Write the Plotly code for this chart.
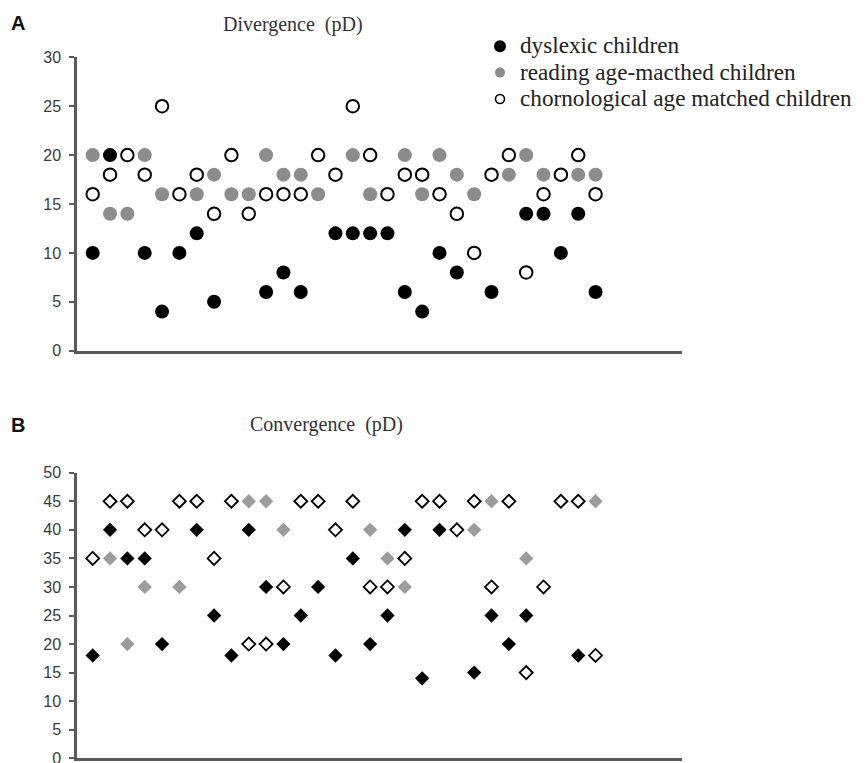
import plotly.graph_objects as go

# The page body adds an 8px offset; positions below compensate for it.
W, H = 866, 763
OFF = 8

subjects = list(range(1, 31))

# Panel A: Divergence (pD)
div_dyslexic = [10, 20, None, 10, 4, 10, 12, 5, None, None, 6, 8, 6, None, 12,
                12, 12, 12, 6, 4, 10, 8, None, 6, None, 14, 14, 10, 14, 6]
div_reading = [20, 14, 14, 20, 16, None, 16, 18, 16, 16, 20, 18, 18, 16, None,
               20, 16, None, 20, 16, 20, 18, 16, None, 18, 20, 18, None, 18, 18]
div_chrono = [16, 18, 20, 18, 25, 16, 18, 14, 20, 14, 16, 16, 16, 20, 18,
              25, 20, 16, 18, 18, 16, 14, 10, 18, 20, 8, 16, 18, 20, 16]

# Panel B: Convergence (pD)
conv_dyslexic = [18, 40, 35, 35, 20, None, 40, 25, 18, 40, 30, 20, 25, 30, 18,
                 35, 20, 25, 40, 14, 40, None, 15, 25, 20, 25, None, None, 18, None]
conv_reading = [None, 35, 20, 30, None, 30, None, None, None, 45, 45, 40, None, None, None,
                None, 40, 35, 30, None, None, None, 40, 45, None, 35, None, None, None, 45]
conv_chrono = [35, 45, 45, 40, 40, 45, 45, 35, 45, 20, 20, 30, 45, 45, 40,
               45, 30, 30, 35, 45, 45, 40, 45, 30, 45, 15, 30, 45, 45, 18]

group_names = ["dyslexic children", "reading age-macthed children",
               "chornological age matched children"]
yticks_a = [0, 5, 10, 15, 20, 25, 30]
yticks_b = [0, 5, 10, 15, 20, 25, 30, 35, 40, 45, 50]

BLACK = "#000000"
GRAY_C = "#8c8c8c"
GRAY_D = "#9c9c9c"


def px_x(x):
    return (x - OFF) / W


def px_y(y):
    return 1 - (y - OFF) / H


fig = go.Figure()

# Panel A traces
fig.add_trace(go.Scatter(x=subjects, y=div_dyslexic, mode="markers", showlegend=False,
                         marker=dict(symbol="circle", size=14, color=BLACK, line=dict(width=0)),
                         xaxis="x", yaxis="y"))
fig.add_trace(go.Scatter(x=subjects, y=div_reading, mode="markers", showlegend=False,
                         marker=dict(symbol="circle", size=14, color=GRAY_C, line=dict(width=0)),
                         xaxis="x", yaxis="y"))
fig.add_trace(go.Scatter(x=subjects, y=div_chrono, mode="markers", showlegend=False,
                         marker=dict(symbol="circle", size=12.5, color="white",
                                     line=dict(width=2, color=BLACK)),
                         xaxis="x", yaxis="y"))

# Panel B traces
fig.add_trace(go.Scatter(x=subjects, y=conv_dyslexic, mode="markers", showlegend=False,
                         marker=dict(symbol="diamond", size=11, color=BLACK, line=dict(width=0)),
                         xaxis="x2", yaxis="y2"))
fig.add_trace(go.Scatter(x=subjects, y=conv_reading, mode="markers", showlegend=False,
                         marker=dict(symbol="diamond", size=11, color=GRAY_D, line=dict(width=0)),
                         xaxis="x2", yaxis="y2"))
fig.add_trace(go.Scatter(x=subjects, y=conv_chrono, mode="markers", showlegend=False,
                         marker=dict(symbol="diamond", size=10, color="white",
                                     line=dict(width=1.8, color=BLACK)),
                         xaxis="x2", yaxis="y2"))

# Legend entries
leg_styles = [
    dict(symbol="circle", size=12, color=BLACK, line=dict(width=0)),
    dict(symbol="circle", size=10, color=GRAY_C, line=dict(width=0)),
    dict(symbol="circle", size=9, color="white", line=dict(width=1.6, color=BLACK)),
]
for name, mk in zip(group_names, leg_styles):
    fig.add_trace(go.Scatter(x=[None], y=[None], mode="markers",
                             name='<span style="font-size:23.2px">' + name + '</span>',
                             marker=mk, xaxis="x", yaxis="y"))

x_dom = [px_x(77), px_x(682)]
x_rng = [0.095, 34.985]
axis_col = "#5a5a5a"

common_x = dict(domain=x_dom, range=x_rng, showgrid=False, zeroline=False,
                showticklabels=False, ticks="", showline=True,
                linecolor=axis_col, linewidth=2.5, fixedrange=True)
common_y = dict(showgrid=False, zeroline=False, showline=True, linecolor=axis_col,
                linewidth=2.5, ticks="outside", ticklen=5, tickwidth=1.5,
                tickcolor=axis_col, ticklabelstandoff=5, ticklabeloverflow="allow",
                tickfont=dict(family="Liberation Sans, Arial", size=16, color="#3a3a3a"),
                fixedrange=True)

fig.update_layout(
    width=W, height=H,
    margin=dict(l=0, r=0, t=0, b=0, autoexpand=False),
    paper_bgcolor="white", plot_bgcolor="white",
    xaxis=dict(**common_x, anchor="y"),
    yaxis=dict(**common_y, domain=[px_y(350.7), px_y(57.3)], range=[0, 30],
               tickvals=yticks_a, anchor="x"),
    xaxis2=dict(**common_x, anchor="y2"),
    yaxis2=dict(**common_y, domain=[px_y(758.3), px_y(472.7)], range=[0, 50],
                tickvals=yticks_b, anchor="x2"),
    legend=dict(x=px_x(480), y=px_y(28), xanchor="left", yanchor="top",
                bgcolor="rgba(0,0,0,0)", borderwidth=0,
                font=dict(family="Liberation Serif, Times New Roman", size=18, color="#222222")),
    annotations=[
        dict(text="<b>A</b>", x=px_x(17.5), y=px_y(22.5), xref="paper", yref="paper",
             showarrow=False, xanchor="center", yanchor="middle",
             font=dict(family="Liberation Sans, Arial", size=20, color="#111111")),
        dict(text="<b>B</b>", x=px_x(17.5), y=px_y(425), xref="paper", yref="paper",
             showarrow=False, xanchor="center", yanchor="middle",
             font=dict(family="Liberation Sans, Arial", size=20, color="#111111")),
        dict(text="Divergence  (pD)", x=px_x(293), y=px_y(24), xref="paper", yref="paper",
             showarrow=False, xanchor="center", yanchor="middle",
             font=dict(family="Liberation Serif, Times New Roman", size=20, color="#333333")),
        dict(text="Convergence  (pD)", x=px_x(326), y=px_y(425), xref="paper", yref="paper",
             showarrow=False, xanchor="center", yanchor="middle",
             font=dict(family="Liberation Serif, Times New Roman", size=20, color="#333333")),
    ],
)

fig.write_html("out.html")
